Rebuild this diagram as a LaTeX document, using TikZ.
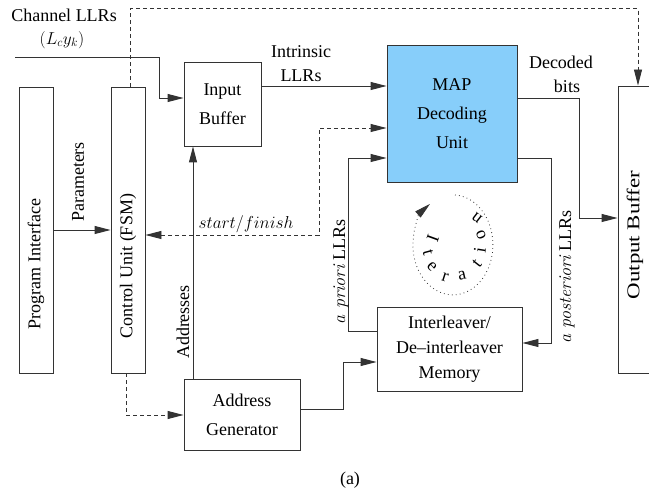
\documentclass[tikz,border=0pt]{standalone}
\usepackage{fontspec}
\setmainfont{Liberation Serif}
\usetikzlibrary{arrows.meta,positioning}
\definecolor{mapblue}{RGB}{135,206,250}
\tikzset{
  >={Triangle[length=16pt,width=8pt]},
  blk/.style={draw=black!80, line width=0.9pt, inner sep=0pt, align=center,
    font=\fontsize{18}{29}\selectfont},
  lbl/.style={inner sep=0pt, align=center, font=\fontsize{18}{24}\selectfont},
  arr/.style={draw=black!80, line width=0.9pt, ->},
  ctl/.style={arr, dash pattern=on 4pt off 3pt},
}
\newcommand{\apri}[1]{{\fontfamily{lmr}\itshape #1}}

\begin{document}
\begin{tikzpicture}[x=1pt,y=-1pt]
    \useasboundingbox (0,0) rectangle (649,494);
    % blocks
    \node[blk, minimum width=34, minimum height=286] (prog) at (36,230) {};
    \node[blk, minimum width=34, minimum height=286] (ctrl) at (128,230) {};
    \node[blk, minimum width=77, minimum height=84] (inbuf) at (222.5,104) {Input\\Buffer};
    \node[blk, fill=mapblue, minimum width=130, minimum height=137] (map) at (452,113.5) {MAP\\Decoding\\Unit};
    \node[blk, minimum width=34, minimum height=287] (outbuf) at (635,229.5) {};
    \node[blk, minimum width=116, minimum height=71] (addr) at (242,414.5) {Address\\Generator};
    \node[blk, minimum width=145, minimum height=84, font=\fontsize{18}{25}\selectfont] (intl) at (449.5,349) {Interleaver/\\De--interleaver\\Memory};
    \node[lbl, rotate=90] (progtxt) at (36,264) {Program Interface};
    \node[lbl, rotate=90] (ctrltxt) at (128,266) {Control Unit (FSM)};
    \node[lbl, yscale=1.27, rotate=90] (outtxt) at (635,235) {Output Buffer};
    % connectors
    \coordinate (chin) at (15,57);
    \draw[arr] (chin) -- (159,57) |- (inbuf.west |- 0,98);
    \draw[ctl] ([xshift=2pt]ctrl.north) -- ++(0,-78) -| ([xshift=3pt]outbuf.north);
    \draw[arr] (inbuf.east |- 0,86) -- (map.west |- 0,86);
    \draw[ctl, <->] (ctrl.east |- 0,235) -| (319,128) -- (map.west |- 0,128);
    \draw[arr] (intl.west |- 0,331) -| (348,158) -- (map.west |- 0,158);
    \draw[arr] (map.east |- 0,158) -| (551,343) -- (intl.east |- 0,343);
    \draw[arr] (map.east |- 0,98) -| (579,218) -- (outbuf.west |- 0,218);
    \draw[arr] (prog) -- (ctrl);
    \draw[arr] (addr.north -| 193,0) -- (inbuf.south -| 193,0);
    \draw[ctl] ([xshift=-2pt]ctrl.south) |- (addr.west |- 0,415);
    \draw[arr] (addr.east |- 0,409) -| (343,362) -- (intl.west |- 0,362);
    % labels
    \node[lbl] (chlab) at (64,15) {Channel LLRs};
    \node[lbl] (lcyk) at (62,40) {$(L_c y_k)$};
    \node[lbl] (intr) at (301,64) {Intrinsic\\LLRs};
    \node[lbl] (decb) at (561,74) {Decoded\\\hspace*{12pt}bits};
    \node[lbl, rotate=90] (parm) at (78,182) {Parameters};
    \node[lbl, rotate=90] (adrs) at (183,322) {Addresses};
    \node[lbl] (sf) at (246,224) {$start/finish$};
    \node[lbl, rotate=90] (apri) at (341,272) {\apri{a priori} LLRs};
    \node[lbl, rotate=90] (apost) at (567,277) {\apri{a posteriori} LLRs};
    % iteration
    \draw[draw=black!80, line width=0.8pt, dash pattern=on 0.8pt off 3.2pt, ->]
      (455,195) arc[start angle=-87, end angle=235, x radius=40, y radius=50];
    \foreach \ch/\px/\py/\a in {I/433/238/250, t/428/253/285, e/432/267/312,
        r/445/277/342, a/462/276/373, t/477/263/412, i/480/250/441,
        o/481/235/473, n/477/218/502}
      \node[lbl, rotate=\a] (iter-\a) at (\px,\py) {\ch};
    \node[lbl] (cap) at (350,480) {(a)};
\end{tikzpicture}
\end{document}
